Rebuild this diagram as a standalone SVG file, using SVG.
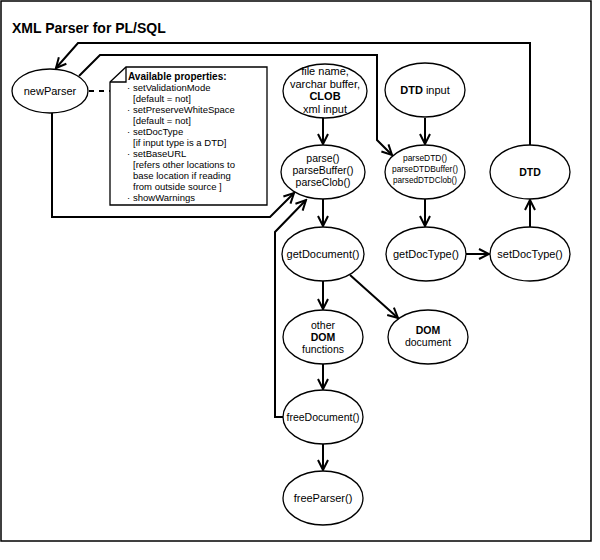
<svg xmlns="http://www.w3.org/2000/svg" width="600" height="560" viewBox="0 0 600 560">
<style>
text{font-family:"Liberation Sans",Arial,sans-serif;fill:#000}
.t{font-size:11px;text-anchor:middle}
.b{font-weight:bold}
.n{font-size:9.5px}
.node ellipse{fill:#fff;stroke:#000;stroke-width:1.3}
.conn path{fill:none;stroke:#000;stroke-width:2;stroke-linejoin:miter}
.arr{marker-end:url(#ah)}
</style>
<defs>
<marker id="ah" markerUnits="userSpaceOnUse" markerWidth="14" markerHeight="14" viewBox="0 0 14 14" refX="12" refY="7" orient="auto">
<path d="M2,2 L12,7 L2,12" fill="none" stroke="#000" stroke-width="2"/>
</marker>
</defs>
<rect x="1" y="1" width="590" height="540" fill="#fff" stroke="#000" stroke-width="1.5"/>
<text x="12" y="33" font-size="14" font-weight="bold">XML Parser for PL/SQL</text>

<g class="conn">
<path class="arr" d="M323,118 L323,144"/>
<path class="arr" d="M425,118 L425,144"/>
<path class="arr" d="M323,199 L323,226"/>
<path class="arr" d="M425,199 L425,226"/>
<path class="arr" d="M466,254 L489,254"/>
<path class="arr" d="M530,227 L530,200"/>
<path class="arr" d="M323,281 L323,309"/>
<path class="arr" d="M350,275 L398,318"/>
<path class="arr" d="M323,364 L323,389"/>
<path class="arr" d="M323,444 L323,470"/>
<path class="arr" d="M283,417 L275,417 L275,232 L306,200"/>
<path class="arr" d="M52,113 L52,217 L270,217 L294,193"/>
<path class="arr" d="M79,76 L100,55 L377,55 L377,140 L392,155"/>
<path class="arr" d="M530,145 L530,43 L78,43 L56,68"/>
<path d="M89,91 L110,91" stroke-width="1.3" stroke-dasharray="5,5"/>
</g>

<g id="note">
<path d="M110,82 L126,67 L267,67 L267,205 L110,205 Z" fill="#fff" stroke="#000" stroke-width="1.3"/>
<path d="M110,82 L126,82 L126,67" fill="none" stroke="#000" stroke-width="1.3"/>
<text x="128" y="80" class="n b" style="font-size:10px">Available properties:</text>
<g class="n">
<text x="127" y="91">·</text><text x="133" y="91">setValidationMode</text>
<text x="133" y="102">[default = not]</text>
<text x="127" y="113">·</text><text x="133" y="113">setPreserveWhiteSpace</text>
<text x="133" y="124">[default = not]</text>
<text x="127" y="135">·</text><text x="133" y="135">setDocType</text>
<text x="133" y="146">[if input type is a DTD]</text>
<text x="127" y="157">·</text><text x="133" y="157">setBaseURL</text>
<text x="133" y="168">[refers other locations to</text>
<text x="133" y="179">base location if reading</text>
<text x="133" y="190">from outside source ]</text>
<text x="127" y="201">·</text><text x="133" y="201">showWarnings</text>
</g>
</g>

<g id="newParser" class="node"><ellipse cx="50" cy="91" rx="38" ry="22"/><text class="t" x="50" y="95" font-size="11.5">newParser</text></g>

<g id="xmlInput" class="node"><ellipse cx="325" cy="91" rx="42" ry="27"/>
<text class="t" x="325" y="75">file name,</text>
<text class="t" x="325" y="87.5">varchar buffer,</text>
<text class="t b" x="325" y="100">CLOB</text>
<text class="t" x="325" y="112.5">xml input</text></g>

<g id="dtdInput" class="node"><ellipse cx="425" cy="90" rx="40" ry="27"/>
<text class="t" x="425" y="94"><tspan class="b">DTD</tspan> input</text></g>

<g id="parse" class="node"><ellipse cx="323" cy="172" rx="42" ry="27"/>
<text class="t" x="323" y="162" style="font-size:10.5px">parse()</text>
<text class="t" x="323" y="174" style="font-size:10.5px">parseBuffer()</text>
<text class="t" x="323" y="186" style="font-size:10.5px">parseClob()</text></g>

<g id="parseDTD" class="node"><ellipse cx="425" cy="172" rx="40" ry="27"/>
<text class="t" x="425" y="160.5" style="font-size:9.5px" textLength="44" lengthAdjust="spacingAndGlyphs">parseDTD()</text>
<text class="t" x="425" y="171.5" style="font-size:9.5px" textLength="66" lengthAdjust="spacingAndGlyphs">parseDTDBuffer()</text>
<text class="t" x="425" y="182.5" style="font-size:9.5px" textLength="64" lengthAdjust="spacingAndGlyphs">parsedDTDClob()</text></g>

<g id="dtd" class="node"><ellipse cx="530" cy="172" rx="40" ry="27"/>
<text class="t b" x="530" y="176" style="font-size:10.5px">DTD</text></g>

<g id="getDocument" class="node"><ellipse cx="323" cy="254" rx="41" ry="27"/>
<text class="t" x="323" y="258">getDocument()</text></g>

<g id="getDocType" class="node"><ellipse cx="426" cy="254" rx="40" ry="27"/>
<text class="t" x="426" y="258">getDocType()</text></g>

<g id="setDocType" class="node"><ellipse cx="530" cy="254" rx="40" ry="27"/>
<text class="t" x="530" y="258">setDocType()</text></g>

<g id="otherDOM" class="node"><ellipse cx="323" cy="337" rx="40" ry="27"/>
<text class="t" x="323" y="329" style="font-size:10.5px">other</text>
<text class="t b" x="323" y="341" style="font-size:10.5px">DOM</text>
<text class="t" x="323" y="353" style="font-size:10.5px">functions</text></g>

<g id="domDocument" class="node"><ellipse cx="428" cy="337" rx="40" ry="27"/>
<text class="t b" x="428" y="334" style="font-size:10.5px">DOM</text>
<text class="t" x="428" y="346" style="font-size:10.5px">document</text></g>

<g id="freeDocument" class="node"><ellipse cx="323" cy="417" rx="40" ry="27"/>
<text class="t" x="323" y="421" style="font-size:10.5px">freeDocument()</text></g>

<g id="freeParser" class="node"><ellipse cx="323" cy="498" rx="40" ry="27"/>
<text class="t" x="323" y="502">freeParser()</text></g>
</svg>
